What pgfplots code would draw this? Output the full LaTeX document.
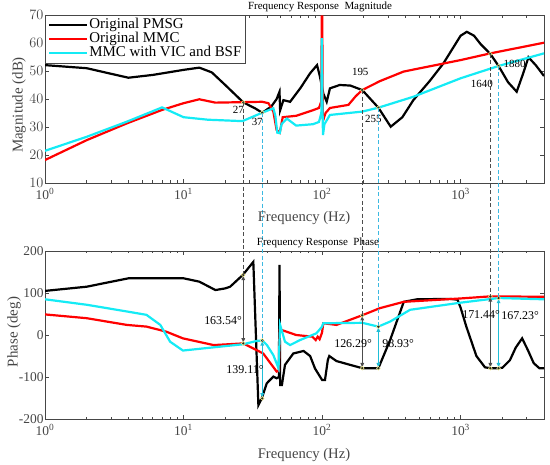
\documentclass[border=0pt]{standalone}
\usepackage{fontspec}
\setmainfont{Liberation Serif}
\usepackage{pgfplots}
\pgfplotsset{compat=1.18}
\definecolor{mcyan}{RGB}{20,235,245}
\definecolor{dcyan}{RGB}{60,185,225}
\definecolor{acyan}{RGB}{30,190,215}
\definecolor{axgray}{RGB}{70,70,70}
\pgfplotsset{legend image code/.code={\draw[#1] (0bp,0bp) -- (38bp,0bp);}}
\begin{document}
\begin{tikzpicture}
\useasboundingbox (0,0) rectangle (550bp,465bp);
% ---------------- Magnitude ----------------
\begin{axis}[
  scale only axis, width=499bp, height=168bp, anchor=south west, at={(45bp,282bp)},
  xmode=log, xmin=1, xmax=4000,
  xtick={1,10,100,1000},
  xticklabels={10\textsuperscript{0},10\textsuperscript{1},10\textsuperscript{2},10\textsuperscript{3}},
  minor xtick={2,3,4,5,6,7,8,9,20,30,40,50,60,70,80,90,200,300,400,500,600,700,800,900,2000,3000,4000},
  axis line style={axgray, line width=0.8bp},
  tick style={axgray, line width=0.6bp},
  major tick length=4bp, minor tick length=2.5bp,
  tick align=inside,
  ticklabel style={font=\fontsize{13.5}{14}\selectfont, text=axgray},
  yticklabel style={xshift=2bp},
  xticklabel style={yshift=-2bp},
  ymin=10, ymax=70, ytick={10,20,30,40,50,60,70},
  legend style={at={(0,1)}, anchor=north west, draw=axgray, fill=white,
    font=\fontsize{15}{15}\selectfont, inner sep=3bp, row sep=0bp,
    nodes={text height=9.5bp, text depth=2.5bp, inner sep=1bp}},
  legend cell align=left,
]
\addplot[black, line width=2.2bp] table {
1 52.1
2 51.0
3 49.0
4 47.6
6 48.6
10 50.4
13 51.2
16 49.5
20 45.0
27 38.8
33 36.6
37 35.1
43 37.3
47 40.0
49.3 42.6
49.8 36.0
52.6 39.6
58.8 39.0
70 44.0
82 49.2
92 52.1
96.5 48.0
102 42.0
108 39.0
114 43.8
134 45.0
160 44.8
195 43.2
255 36.9
313 30.1
380 33.5
456 39.6
600 46.5
751 52.7
1000 62.6
1109 64.0
1250 62.6
1400 59.5
1640 56.1
1880 51.8
2200 46.0
2540 42.6
2800 48.5
3090 54.9
3500 52.0
4000 48.2
};
\addplot[red, line width=2.2bp] table {
1 18.2
2 25.3
3.9 31.3
7 36.1
10 38.5
13 39.9
17 38.7
37 39.0
41 38.5
44.5 35.5
47 28.9
49.5 28.0
52 33.5
65 34.0
86 36.0
95 36.8
98.5 39.0
99.6 69.5
100.3 69.5
101.2 33.0
102 32.5
106 35.0
114 36.8
155 37.9
175 41.0
195 43.2
262 46.4
388 49.8
1000 53.9
1640 56.3
4000 60.1
};
\addplot[mcyan, line width=2.2bp] table {
1 21.5
2 26.5
3.9 31.9
7 37.0
10 33.5
15 32.6
26.6 32.1
37 35.1
44.5 36.7
46 34.0
47.5 28.0
49.5 27.8
51 31.0
55.7 33.0
65 30.5
86 31.0
95 31.8
98.8 35.0
99.6 61.7
100.5 40.0
101.5 27.1
104 31.0
114 34.3
195 35.5
255 36.9
456 40.8
1000 47.4
1880 51.8
4000 56.3
};
\legend{Original PMSG, Original MMC, MMC with VIC and BSF}
\addplot[only marks, mark=*, mark size=1.9bp, mark options={fill=black!85, draw=yellow!45!white, line width=0.5bp}, forget plot] coordinates {(27,38.8) (37,35.1) (195,43.2) (255,36.9) (1640,56.1) (1880,51.8)};
\node[font=\fontsize{11}{12}\selectfont, inner sep=0.5bp, xshift=-5bp, yshift=-8bp] at (axis cs:27,38.8) {27};
\node[font=\fontsize{11}{12}\selectfont, inner sep=0.5bp, xshift=-5bp, yshift=-9bp] at (axis cs:37,35.1) {37};
\node[font=\fontsize{11}{12}\selectfont, inner sep=0.5bp, xshift=-2bp, yshift=18.5bp] at (axis cs:195,43.2) {195};
\node[font=\fontsize{11}{12}\selectfont, inner sep=0.5bp, xshift=-5bp, yshift=-11bp] at (axis cs:255,36.9) {255};
\node[font=\fontsize{11}{12}\selectfont, inner sep=0.5bp, xshift=-8.5bp, yshift=-29.5bp] at (axis cs:1640,56.1) {1640};
\node[font=\fontsize{11}{12}\selectfont, inner sep=0.5bp, xshift=16bp, yshift=2.5bp] at (axis cs:1880,51.8) {1880};
\coordinate (t27) at (axis cs:27,38.8);
\coordinate (t37) at (axis cs:37,35.1);
\coordinate (t195) at (axis cs:195,43.2);
\coordinate (t255) at (axis cs:255,36.9);
\coordinate (t1640) at (axis cs:1640,56.1);
\coordinate (t1880) at (axis cs:1880,51.8);
\end{axis}
% ---------------- Phase ----------------
\begin{axis}[
  scale only axis, width=499bp, height=168bp, anchor=south west, at={(45bp,46bp)},
  xmode=log, xmin=1, xmax=4000,
  xtick={1,10,100,1000},
  xticklabels={10\textsuperscript{0},10\textsuperscript{1},10\textsuperscript{2},10\textsuperscript{3}},
  minor xtick={2,3,4,5,6,7,8,9,20,30,40,50,60,70,80,90,200,300,400,500,600,700,800,900,2000,3000,4000},
  axis line style={axgray, line width=0.8bp},
  tick style={axgray, line width=0.6bp},
  major tick length=4bp, minor tick length=2.5bp,
  tick align=inside,
  ticklabel style={font=\fontsize{13.5}{14}\selectfont, text=axgray},
  yticklabel style={xshift=2bp},
  xticklabel style={yshift=-2bp},
  ymin=-200, ymax=200, ytick={-200,-100,0,100,200},
  yticklabels={-200,-100,0,100,200},
]
\addplot[black, line width=2.2bp] table {
1 105
2 115
4 135
10 135
13 127
17 107
20 111
21.7 115
26.8 143
31.9 174
34.7 -167
36.7 -151
39.9 -115
44.5 -99
47 -103
48.8 -100
49.3 167
49.8 -119
51.3 -119
54 -71
62 -44
73.5 -38
82 -50
89 -80
96.6 -99
100 -107
105 -107
110 -60
112.7 -50
127 -62
159 -71
195 -79
255 -79
310 -12
389 79
484 85
842 86
950 84
1000 65
1100 20
1300 -50
1500 -77
1640 -79
1880 -79
2000 -78
2270 -60
2500 -30
2780 -8
3050 -35
3370 -67
3700 -79
4000 -79
};
\addplot[red, line width=2.2bp] table {
1 49
2 40
3.9 24
5.4 20
7.5 8
9.9 -8
16.5 -24
27 -20
37.6 -44
47 -87
48.8 -85
49.5 12
51 12
65 0
85 -4
90 -12
93 -4
96 -10
98 -2
100 6
102 28
127 24
195 47
262 64
389 79
1000 87
1640 92
4000 91
};
\addplot[mcyan, line width=2.2bp] table {
1 85
2 72
3.9 56
5.4 48
6.8 24
8 -16
9.9 -37
27 -22
33.8 -14
37 -13
40 -24
44.5 -48
48.5 -79
49.8 24
54 -16
58.8 -24
69.4 -12
91 4
100 20
102 28
195 29
255 20
310 32
432 60
1000 77
1880 88
4000 85
};
\addplot[black!70, line width=0.8bp, latex-latex] coordinates {(27,143) (27,-20)};
\addplot[black!70, line width=0.8bp, latex-latex] coordinates {(195,47) (195,-79)};
\addplot[black!70, line width=0.8bp, latex-latex] coordinates {(1640,92) (1640,-79)};
\addplot[acyan, line width=0.8bp, latex-latex] coordinates {(37,-13) (37,-151)};
\addplot[acyan, line width=0.8bp, latex-latex] coordinates {(255,20) (255,-79)};
\addplot[acyan, line width=0.8bp, latex-latex] coordinates {(1880,88) (1880,-79)};
\addplot[only marks, mark=*, mark size=1.9bp, mark options={fill=black!85, draw=yellow!45!white, line width=0.5bp}] coordinates {(27,143) (27,-20) (37,-13) (37,-151) (195,47) (195,-79) (255,20) (255,-79) (1640,92) (1640,-79) (1880,88) (1880,-79)};
\node[font=\fontsize{12}{13}\selectfont, inner sep=0.5bp] at (axis cs:19.3,34) {163.54°};
\node[font=\fontsize{12}{13}\selectfont, inner sep=0.5bp] at (axis cs:27.8,-83) {139.11°};
\node[font=\fontsize{12}{13}\selectfont, inner sep=0.5bp] at (axis cs:167.5,-20) {126.29°};
\node[font=\fontsize{12}{13}\selectfont, inner sep=0.5bp] at (axis cs:354,-20) {98.93°};
\node[font=\fontsize{12}{13}\selectfont, inner sep=0.5bp] at (axis cs:1406,48) {171.44°};
\node[font=\fontsize{12}{13}\selectfont, inner sep=0.5bp] at (axis cs:2690,46) {167.23°};
\coordinate (b27) at (axis cs:27,143);
\coordinate (b37) at (axis cs:37,-13);
\coordinate (b195) at (axis cs:195,47);
\coordinate (b255) at (axis cs:255,20);
\coordinate (b1640) at (axis cs:1640,92);
\coordinate (b1880) at (axis cs:1880,88);
\end{axis}
\draw[black!70, line width=0.8bp, dash pattern=on 4bp off 2.5bp] (t27) -- (b27);
\draw[black!70, line width=0.8bp, dash pattern=on 4bp off 2.5bp] (t195) -- (b195);
\draw[black!70, line width=0.8bp, dash pattern=on 4bp off 2.5bp] (t1640) -- (b1640);
\draw[dcyan, line width=0.8bp, dash pattern=on 4bp off 2.5bp] (t37) -- (b37);
\draw[dcyan, line width=0.8bp, dash pattern=on 4bp off 2.5bp] (t255) -- (b255);
\draw[dcyan, line width=0.8bp, dash pattern=on 4bp off 2.5bp] (t1880) -- (b1880);
\node[font=\fontsize{11}{12}\selectfont] at (320bp,458bp) {Frequency Response\ \ Magnitude};
\node[font=\fontsize{11}{12}\selectfont] at (318bp,222bp) {Frequency Response\ \ Phase};
\node[font=\fontsize{14.7}{16}\selectfont, text=axgray] at (304bp,247bp) {Frequency (Hz)};
\node[font=\fontsize{14.7}{16}\selectfont, text=axgray] at (304bp,10bp) {Frequency (Hz)};
\node[rotate=90, font=\fontsize{15}{16}\selectfont, text=axgray] at (19bp,360bp) {Magnitude (dB)};
\node[rotate=90, font=\fontsize{15}{16}\selectfont, text=axgray] at (14bp,133bp) {Phase (deg)};
\end{tikzpicture}
\end{document}
